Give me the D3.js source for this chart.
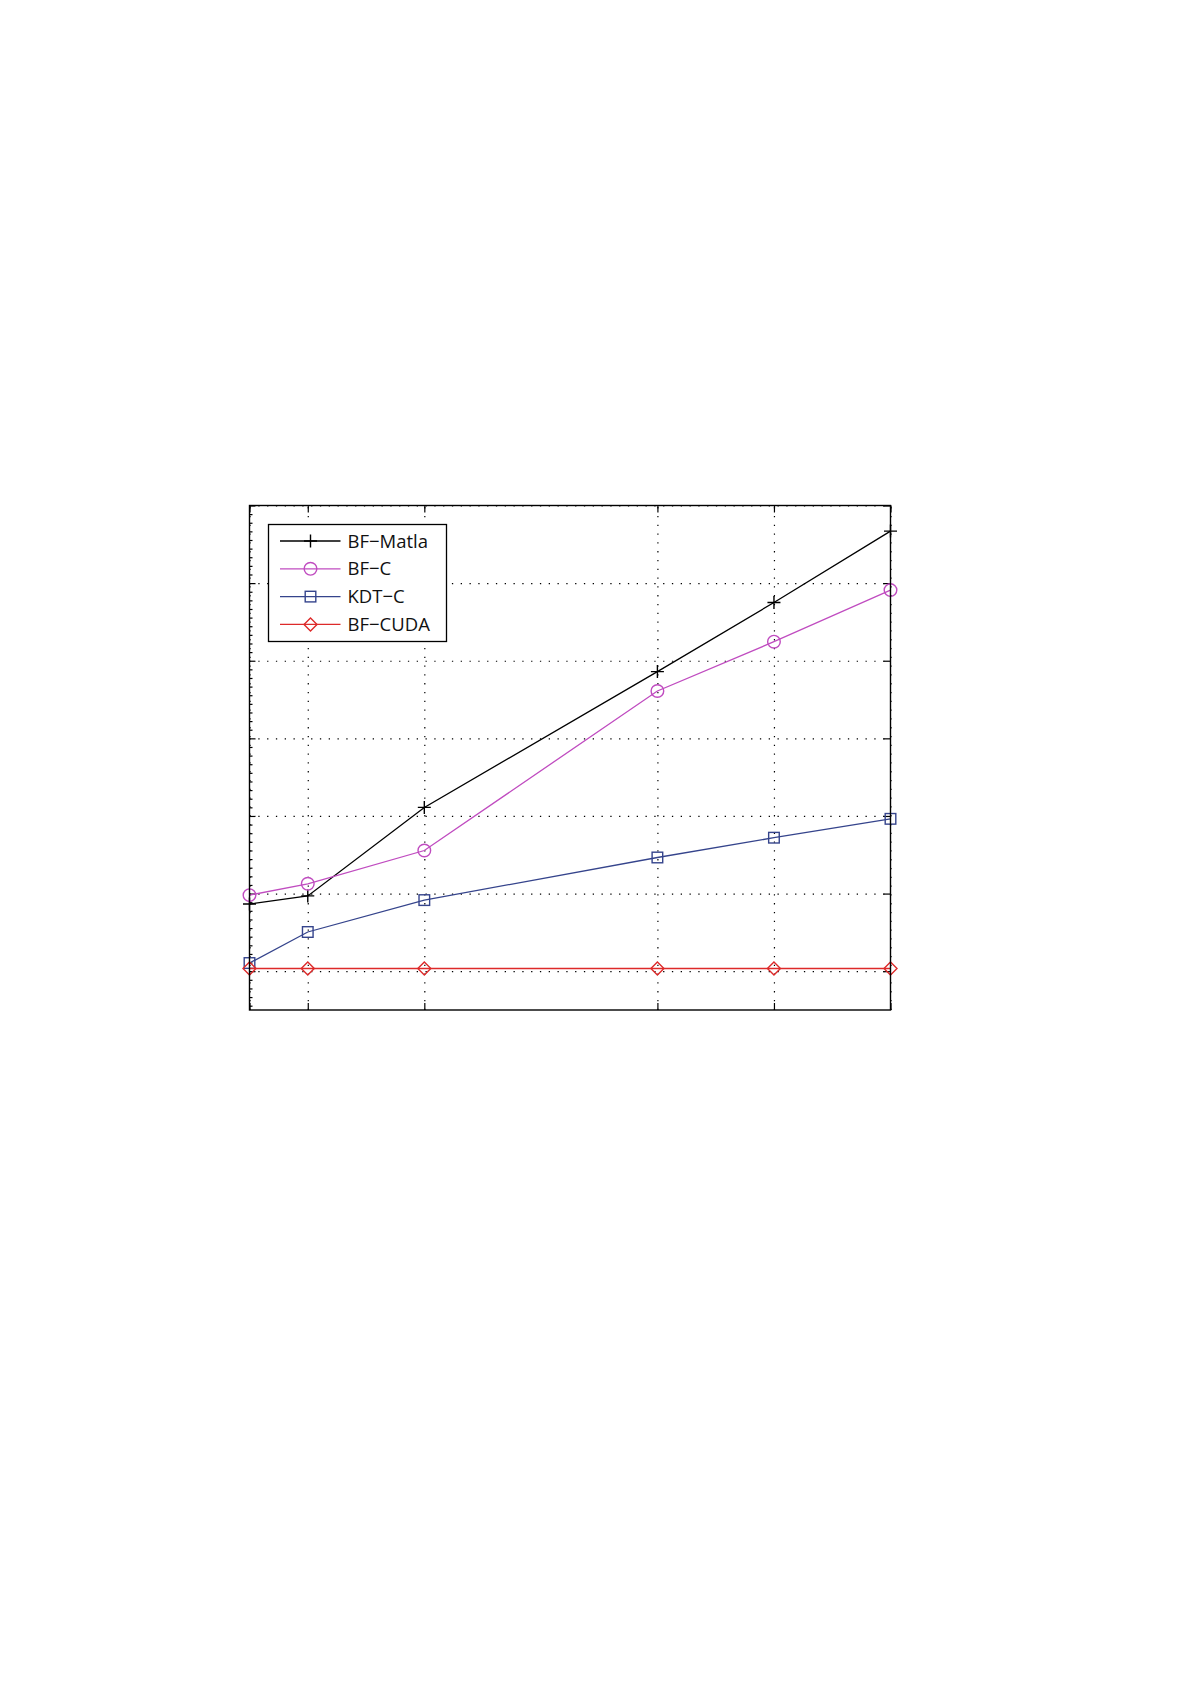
<!DOCTYPE html>
<html>
<head>
<meta charset="utf-8">
<script src="https://cdn.jsdelivr.net/npm/d3@7"></script>
<style>
  body { margin: 0; background: #fff; }
  svg { display: block; }
  .grid line { stroke: #000; stroke-width: 1.2; stroke-dasharray: 1.3 7.5; }
  .grid path { display: none; }
  .tick-ax line { stroke: #000; stroke-width: 1.2; }
  .tick-ax path { display: none; }
  .legend text { font-family: "Open Sans", sans-serif; font-size: 18.5px; fill: #111; }
</style>
</head>
<body>
<svg id="chart" width="1191" height="1685"></svg>
<script>
// data
var xValues = [1, 2, 4, 8, 10, 12];
var bfMatlab = [0.865, 0.97, 2.11, 3.86, 4.75, 5.67];
var bfC = [0.98, 1.126, 1.555, 3.61, 4.245, 4.91];
var kdtC = [0.105, 0.505, 0.916, 1.465, 1.72, 1.963];
var bfCuda = [0.035, 0.035, 0.035, 0.035, 0.035, 0.035];
var seriesNames = ["BF\u2212Matla", "BF\u2212C", "KDT\u2212C", "BF\u2212CUDA"];
var yTicks = [0, 1, 2, 3, 4, 5, 6];

var svg = d3.select('#chart');

var plot = {l: 249.5, r: 890.5, t: 505.5, b: 1010};

var xScale = d3.scaleLinear()
    .domain([1, 12])
    .range([plot.l, plot.r]);

var yScale = d3.scaleLinear()
    .domain([-0.5, 6])
    .range([plot.b, plot.t]);

var plotW = plot.r - plot.l;
var plotH = plot.b - plot.t;

// minor y ticks (9 per major step)
var yMinor = d3.range(-4, 6 * 9 + 1).map(function(i) { return i / 9; })
    .filter(function(v) { return v >= -0.5 && v <= 6 && Math.abs(v - Math.round(v)) > 1e-6; });

// grid
svg.append('g')
    .attr('class', 'grid')
    .attr('transform', 'translate(0,' + plot.b + ')')
    .call(d3.axisBottom(xScale).tickValues(xValues).tickSize(-plotH).tickFormat(''));

svg.append('g')
    .attr('class', 'grid')
    .attr('transform', 'translate(' + plot.l + ',0)')
    .call(d3.axisLeft(yScale).tickValues(yTicks).tickSize(-plotW).tickFormat(''));

// ticks pointing inward
svg.append('g').attr('class', 'tick-ax')
    .attr('transform', 'translate(0,' + plot.b + ')')
    .call(d3.axisBottom(xScale).tickValues(xValues).tickSize(-7).tickFormat(''));
svg.append('g').attr('class', 'tick-ax')
    .attr('transform', 'translate(0,' + plot.t + ')')
    .call(d3.axisTop(xScale).tickValues(xValues).tickSize(-7).tickFormat(''));
svg.append('g').attr('class', 'tick-ax')
    .attr('transform', 'translate(' + plot.l + ',0)')
    .call(d3.axisLeft(yScale).tickValues(yTicks).tickSize(-6).tickFormat(''));
svg.append('g').attr('class', 'tick-ax')
    .attr('transform', 'translate(' + plot.l + ',0)')
    .call(d3.axisLeft(yScale).tickValues(yMinor).tickSize(-3).tickFormat(''));
svg.append('g').attr('class', 'tick-ax')
    .attr('transform', 'translate(' + plot.r + ',0)')
    .call(d3.axisRight(yScale).tickValues(yTicks).tickSize(-7).tickFormat(''));

// series
var series = [
    {name: seriesNames[0], values: bfMatlab, color: '#000000', marker: 'plus'},
    {name: seriesNames[1], values: bfC, color: '#c04cc0', marker: 'circle'},
    {name: seriesNames[2], values: kdtC, color: '#35448c', marker: 'square'},
    {name: seriesNames[3], values: bfCuda, color: '#dd2a2a', marker: 'diamond'}
];

var line = d3.line()
    .x(function(d) { return xScale(d[0]); })
    .y(function(d) { return yScale(d[1]); });

function drawMarker(g, type, color) {
    if (type === 'plus') {
        g.append('path').attr('d', 'M-6.5,0H6.5M0,-6.5V6.5')
            .attr('stroke', color).attr('stroke-width', 1.4).attr('fill', 'none');
    } else if (type === 'circle') {
        g.append('circle').attr('r', 6.3)
            .attr('stroke', color).attr('stroke-width', 1.4).attr('fill', 'none');
    } else if (type === 'square') {
        g.append('rect').attr('x', -5.3).attr('y', -5.3).attr('width', 10.6).attr('height', 10.6)
            .attr('stroke', color).attr('stroke-width', 1.4).attr('fill', 'none');
    } else if (type === 'diamond') {
        g.append('path').attr('d', 'M0,-6.5L6.5,0L0,6.5L-6.5,0Z')
            .attr('stroke', color).attr('stroke-width', 1.4).attr('fill', 'none');
    }
}

series.forEach(function(s) {
    var pts = xValues.map(function(x, i) { return [x, s.values[i]]; });
    svg.append('path')
        .datum(pts)
        .attr('d', line)
        .attr('fill', 'none')
        .attr('stroke', s.color)
        .attr('stroke-width', 1.3);
    pts.forEach(function(p) {
        var g = svg.append('g')
            .attr('transform', 'translate(' + xScale(p[0]) + ',' + yScale(p[1]) + ')');
        drawMarker(g, s.marker, s.color);
    });
});

// axes box
svg.append('rect')
    .attr('x', plot.l).attr('y', plot.t)
    .attr('width', plotW).attr('height', plotH)
    .attr('fill', 'none').attr('stroke', '#000').attr('stroke-width', 1.4);

// legend
var legend = svg.append('g').attr('class', 'legend')
    .attr('transform', 'translate(268.5,524.5)');
legend.append('rect')
    .attr('width', 178).attr('height', 117)
    .attr('fill', '#fff').attr('stroke', '#000').attr('stroke-width', 1.3);

series.forEach(function(s, i) {
    var row = legend.append('g').attr('transform', 'translate(0,' + (16.5 + i * 27.8) + ')');
    row.append('line')
        .attr('x1', 11.5).attr('x2', 72)
        .attr('stroke', s.color).attr('stroke-width', 1.3);
    var m = row.append('g').attr('transform', 'translate(42,0)');
    drawMarker(m, s.marker, s.color);
    row.append('text')
        .attr('x', 79)
        .attr('dy', '0.36em')
        .text(s.name);
});
</script>
</body>
</html>
